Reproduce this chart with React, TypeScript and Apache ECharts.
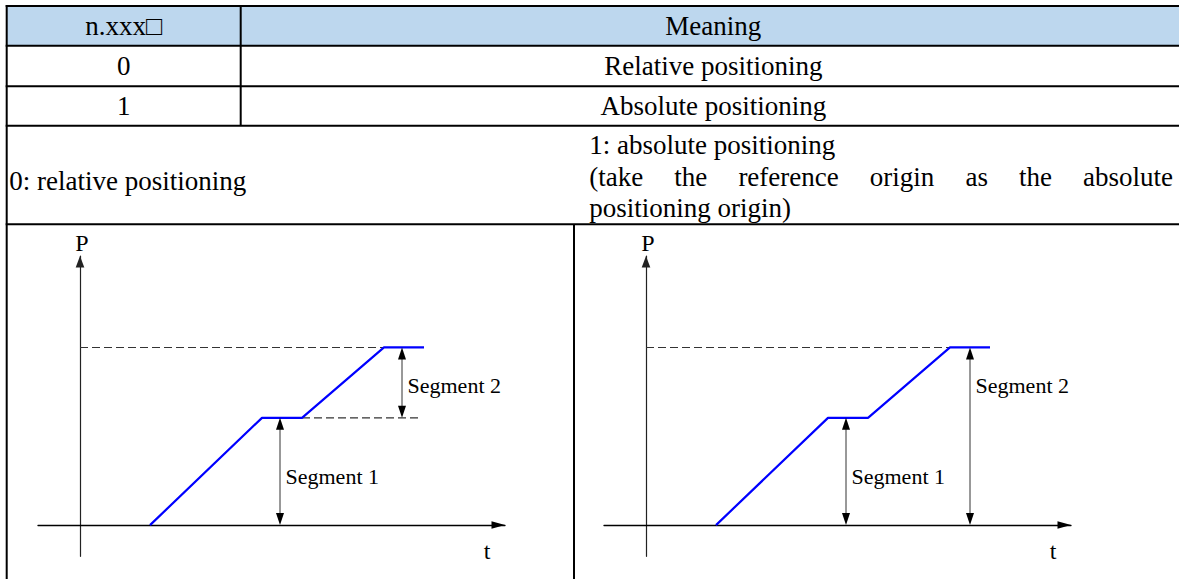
import React, { useEffect, useRef } from 'react';
import * as echarts from 'echarts';

// ---------- table texts ----------
const headerCells = ['n.xxx\u25A1', 'Meaning'];
const settingValues = ['0', '1'];
const settingMeanings = ['Relative positioning', 'Absolute positioning'];
const modeTitleLeft = '0: relative positioning';
const modeTitleRight = [
  '1: absolute positioning',
  '(take the reference origin as the absolute',
  'positioning origin)',
];

// ---------- diagram data (t, P) ----------
const profileT = [1.75, 4.55, 5.55, 7.6, 8.6];
const profileP = [0, 2.68, 2.68, 4.44, 4.44];
const relGuideTopT = [0, 7.6];
const relGuideTopP = [4.44, 4.44];
const relGuideMidT = [5.55, 8.48];
const relGuideMidP = [2.68, 2.68];
const absGuideTopT = [0, 7.6];
const absGuideTopP = [4.44, 4.44];
const segLabels = ['Segment 1', 'Segment 2'];
const segLabelP = [1.21, 3.5];
const relSegT = [5.0, 8.05];
const relSegFrom = [0, 2.68];
const relSegTo = [2.68, 4.44];
const absSegT = [5.0, 8.1];
const absSegFrom = [0, 0];
const absSegTo = [2.68, 4.44];
const axisRangeT = [-1.05, 10.625];
const axisRangeP = [-0.78, 6.725];
const axisNames = ['P', 't'];

const SERIF = 'Times New Roman';
const TABLE_FS = 27;
const DIAG_FS = 22;
const AXIS_NAME_FS = 24;

function zip(a: number[], b: number[]) {
  return a.map((v, i) => [v, b[i]]);
}

function measure(text: string, size: number) {
  const c = document.createElement('canvas').getContext('2d');
  if (!c) return text.length * size * 0.45;
  c.font = `${size}px "Times New Roman"`;
  return c.measureText(text).width;
}

export default function App() {
  const ref = useRef<HTMLDivElement>(null);

  useEffect(() => {
    if (!ref.current) return;
    const chart = echarts.init(ref.current, undefined, { renderer: 'svg' });

    const L = 6.7; // left border
    const R = 1186; // right border (beyond view)
    const top = 6;
    const rowY = [top, 45.8, 86.3, 125.7, 224.3];
    const col1 = 240.7;
    const col2 = 574;
    const bottom = 579;
    const lineStyle = { stroke: '#000', lineWidth: 2 };

    const txt = (text: string, x: number, y: number, align: string, size = TABLE_FS) => ({
      type: 'text',
      x,
      y,
      style: { text, fill: '#000', fontSize: size, fontFamily: SERIF, align, verticalAlign: 'middle' },
    });

    const tableEls: any[] = [];
    tableEls.push({ type: 'rect', shape: { x: L, y: rowY[0], width: R - L, height: rowY[1] - rowY[0] }, style: { fill: '#BDD7EE' } });
    rowY.forEach((y) => tableEls.push({ type: 'line', shape: { x1: L - 1, y1: y, x2: R, y2: y }, style: lineStyle }));
    tableEls.push({ type: 'line', shape: { x1: L, y1: top - 1, x2: L, y2: bottom + 2 }, style: lineStyle });
    tableEls.push({ type: 'line', shape: { x1: col1, y1: top, x2: col1, y2: rowY[3] }, style: lineStyle });
    tableEls.push({ type: 'line', shape: { x1: col2, y1: rowY[4], x2: col2, y2: bottom + 2 }, style: lineStyle });

    const c1 = (L + col1) / 2;
    const c2 = (col1 + R) / 2;
    tableEls.push(txt(headerCells[0], c1, 26, 'center'));
    tableEls.push(txt(headerCells[1], c2, 26, 'center'));
    settingValues.forEach((v, i) => {
      const cy = (rowY[i + 1] + rowY[i + 2]) / 2;
      tableEls.push(txt(v, c1, cy, 'center'));
      tableEls.push(txt(settingMeanings[i], c2, cy, 'center'));
    });
    tableEls.push(txt(modeTitleLeft, 9.3, 181, 'left'));
    const rx = 589.3;
    const lineYs = [145, 176.7, 208.3];
    tableEls.push(txt(modeTitleRight[0], rx, lineYs[0], 'left'));
    tableEls.push(txt(modeTitleRight[2], rx, lineYs[2], 'left'));
    const words = modeTitleRight[1].split(' ');
    const widths = words.map((w) => measure(w, TABLE_FS));
    const total = widths.reduce((s, w) => s + w, 0);
    const right = 1173;
    const gap = (right - rx - total) / (words.length - 1);
    let cx = rx;
    words.forEach((w, i) => {
      tableEls.push(txt(w, cx, lineYs[1], 'left'));
      cx += widths[i] + gap;
    });

    const origins = [80, 646];
    origins.forEach((ox) => {
      tableEls.push(txt(axisNames[0], ox + 2, 243, 'center', AXIS_NAME_FS));
      tableEls.push(txt(axisNames[1], ox + 407, 551, 'center', AXIS_NAME_FS));
    });

    const grids = [
      { left: 38, top: 256, width: 467, height: 300.3 },
      { left: 604, top: 256, width: 467, height: 300.3 },
    ];

    const xAxes = grids.map((_, i) => ({
      type: 'value',
      gridIndex: i,
      min: axisRangeT[0],
      max: axisRangeT[1],
      axisLine: {
        show: true,
        onZero: true,
        symbol: ['none', 'triangle'],
        symbolSize: [7.5, 13.5],
        symbolOffset: [0, -6.75],
        lineStyle: { color: '#000', width: 1.3 },
      },
      axisTick: { show: false },
      axisLabel: { show: false },
      splitLine: { show: false },
    }));
    const yAxes = grids.map((_, i) => ({
      type: 'value',
      gridIndex: i,
      min: axisRangeP[0],
      max: axisRangeP[1],
      axisLine: {
        show: true,
        onZero: true,
        symbol: ['none', 'triangle'],
        symbolSize: [8.6, 11.5],
        symbolOffset: [0, -5.75],
        lineStyle: { color: '#222', width: 1.2 },
      },
      axisTick: { show: false },
      axisLabel: { show: false },
      splitLine: { show: false },
    }));

    const profileSeries = (i: number) => ({
      type: 'line',
      xAxisIndex: i,
      yAxisIndex: i,
      data: zip(profileT, profileP),
      showSymbol: false,
      symbol: 'none',
      lineStyle: { color: '#0000FF', width: 2.2 },
      z: 5,
    });
    const guideSeries = (i: number, t: number[], p: number[]) => ({
      type: 'line',
      xAxisIndex: i,
      yAxisIndex: i,
      data: zip(t, p),
      showSymbol: false,
      symbol: 'none',
      lineStyle: { color: '#333', width: 1.1, type: [8, 4] },
      z: 3,
    });
    const segmentSeries = (i: number, t: number[], from: number[], to: number[]) => ({
      type: 'custom',
      xAxisIndex: i,
      yAxisIndex: i,
      data: t.map((v, k) => [v, from[k], to[k], segLabelP[k]]),
      z: 6,
      renderItem: (params: any, api: any) => {
        const tt = api.value(0);
        const a = api.coord([tt, api.value(1)]);
        const b = api.coord([tt, api.value(2)]);
        const l = api.coord([tt, api.value(3)]);
        const hw = 4;
        const h = 12;
        return {
          type: 'group',
          children: [
            { type: 'line', shape: { x1: a[0], y1: a[1] - h + 1, x2: b[0], y2: b[1] + h - 1 }, style: { stroke: '#333', lineWidth: 1 } },
            { type: 'polygon', shape: { points: [[b[0], b[1]], [b[0] - hw, b[1] + h], [b[0] + hw, b[1] + h]] }, style: { fill: '#000' } },
            { type: 'polygon', shape: { points: [[a[0], a[1]], [a[0] - hw, a[1] - h], [a[0] + hw, a[1] - h]] }, style: { fill: '#000' } },
            {
              type: 'text',
              x: l[0] + 5.5,
              y: l[1],
              style: { text: segLabels[params.dataIndex], fill: '#000', fontSize: DIAG_FS, fontFamily: SERIF, align: 'left', verticalAlign: 'middle' },
            },
          ],
        };
      },
    });

    chart.setOption({
      animation: false,
      backgroundColor: '#fff',
      grid: grids,
      xAxis: xAxes,
      yAxis: yAxes,
      series: [
        profileSeries(0),
        guideSeries(0, relGuideTopT, relGuideTopP),
        guideSeries(0, relGuideMidT, relGuideMidP),
        segmentSeries(0, relSegT, relSegFrom, relSegTo),
        profileSeries(1),
        guideSeries(1, absGuideTopT, absGuideTopP),
        segmentSeries(1, absSegT, absSegFrom, absSegTo),
      ],
      graphic: [{ type: 'group', silent: true, children: tableEls }],
    });

    return () => chart.dispose();
  }, []);

  return <div ref={ref} style={{ position: 'absolute', left: 0, top: 0, width: 1179, height: 579 }} />;
}
